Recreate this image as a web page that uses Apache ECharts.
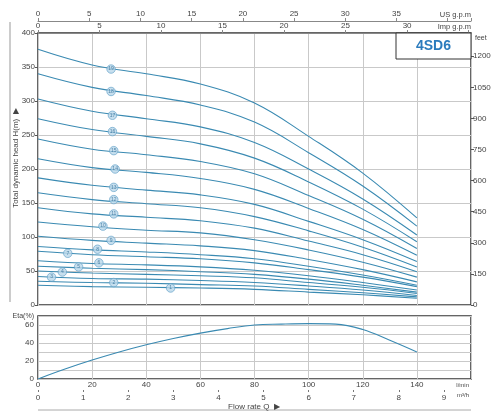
<!DOCTYPE html>
<html><head><meta charset="utf-8">
<script src="https://cdn.jsdelivr.net/npm/echarts@6/dist/echarts.min.js"></script>
<style>html,body{margin:0;padding:0;background:#fff}#c{width:495px;height:415px}</style>
</head><body><div id="c"></div>
<script>
// Flow points (l/min) for head curves
const flowQ = [0, 20, 40, 60, 80, 100, 120, 140];
// Head (m) for each stage curve
const h1  = [29, 27, 26, 25, 23, 19, 15, 10];
const h2  = [35, 33, 32, 30, 28, 23, 18, 12];
const h3  = [42, 39, 38, 36, 33, 28, 22, 14];
const h4  = [50, 47, 45, 43, 40, 33, 26, 17];
const h5  = [57, 54, 52, 49, 45, 38, 29, 19];
const h6  = [65, 61, 59, 56, 51, 43, 33, 22];
const h7  = [79, 74, 71, 68, 62, 52, 41, 27];
const h8  = [86, 81, 78, 74, 68, 57, 44, 29];
const h9  = [101, 95, 91, 87, 80, 67, 52, 34];
const h10 = [122, 115, 110, 106, 96, 81, 63, 41];
const h11 = [143, 134, 129, 124, 113, 94, 74, 49];
const h12 = [165, 155, 149, 143, 130, 109, 85, 56];
const h13 = [187, 176, 169, 162, 148, 123, 96, 64];
const h14 = [215, 202, 195, 186, 170, 142, 111, 73];
const h15 = [244, 229, 221, 211, 193, 161, 126, 83];
const h16 = [274, 258, 248, 237, 216, 181, 141, 93];
const h17 = [303, 285, 274, 262, 239, 200, 156, 103];
const h18 = [340, 320, 308, 294, 269, 224, 175, 116];
const h19 = [376, 353, 340, 325, 297, 248, 194, 128];
// Stage label markers (position along the curve)
const stageNames = ['1','2','3','4','5','6','7','8','9','10','11','12','13','14','15','16','17','18','19'];
const labelQ = [49, 28, 5, 9, 15, 22.5, 11, 22, 27, 24, 28, 28, 28, 28.5, 28, 27.5, 27.5, 27, 27];
const labelH = [25, 33, 41, 48.5, 56, 62, 76, 82, 95, 116, 134, 155, 173, 200, 227, 255, 279, 314, 347];
// Efficiency curve
const etaQ = [0, 10, 20, 30, 40, 50, 60, 70, 80, 90, 100, 110, 120, 130, 140];
const etaV = [0, 11, 21, 30, 38, 45, 51, 56, 60, 61, 61.5, 61, 55, 43, 30];
// Tick labels / units
const etaLabels = [0, 20, 40, 60];
const usGpmLabelMax = 35;
const impGpmLabelMax = 30;

const heads = [h1,h2,h3,h4,h5,h6,h7,h8,h9,h10,h11,h12,h13,h14,h15,h16,h17,h18,h19];
const LINE = '#3a8ab2';
const FONT = 'Liberation Sans';
const GRIDC = '#c9c9c9';
const TXT = '#444';

const series = heads.map((h, i) => ({
  type: 'line', xAxisIndex: 0, yAxisIndex: 0, smooth: 0.4, symbol: 'none',
  lineStyle: { color: LINE, width: 1.1 }, silent: true,
  data: flowQ.map((q, j) => [q, h[j]])
}));
series.push({
  type: 'scatter', xAxisIndex: 0, yAxisIndex: 0, symbol: 'circle', symbolSize: 8.5,
  itemStyle: { color: '#b9d7ea', borderColor: '#5d9ec6', borderWidth: 0.8 },
  label: { show: true, position: 'inside', formatter: p => p.data[2], fontSize: 5, color: '#2d6c96', fontFamily: FONT },
  data: labelQ.map((q, i) => [q, labelH[i], stageNames[i]]), z: 5
});
series.push({
  type: 'line', xAxisIndex: 3, yAxisIndex: 2, smooth: 0.4, symbol: 'none',
  lineStyle: { color: LINE, width: 1.1 },
  data: etaQ.map((q, i) => [q, etaV[i]])
});

const lbl = { fontSize: 8, color: TXT, fontFamily: FONT };
const option = {
  animation: false,
  grid: [
    { left: 38, top: 33, width: 433, height: 272, show: true, borderColor: '#333', borderWidth: 1.5, backgroundColor: '#fff', containLabel: false, outerBoundsMode: 'none' },
    { left: 38, top: 316, width: 433, height: 63, show: true, borderColor: '#333', borderWidth: 1.5, backgroundColor: '#fff', containLabel: false, outerBoundsMode: 'none' }
  ],
  xAxis: [
    { gridIndex: 0, type: 'value', position: 'bottom', min: 0, max: 160, interval: 20,
      axisLabel: { show: false }, axisTick: { show: false }, axisLine: { show: false, onZero: false },
      splitLine: { lineStyle: { color: GRIDC, width: 1 } } },
    { gridIndex: 0, type: 'value', position: 'top', min: 0, max: 160 / 4.546, interval: 5,
      axisLine: { show: true, onZero: false, lineStyle: { color: '#888' } },
      axisTick: { show: true, length: 3, lineStyle: { color: '#888' } },
      axisLabel: { ...lbl, margin: 3, showMaxLabel: false, formatter: v => v <= impGpmLabelMax ? String(v) : '' },
      splitLine: { show: false },
      name: 'Imp g.p.m', nameLocation: 'end', nameGap: 0, nameMoveOverlap: false,
      nameTextStyle: { fontSize: 7.5, color: TXT, fontFamily: FONT, align: 'right', verticalAlign: 'bottom', padding: [0, 0, 2, 0] } },
    { gridIndex: 0, type: 'value', position: 'top', offset: 12, min: 0, max: 160 / 3.785, interval: 5,
      axisLine: { show: true, onZero: false, lineStyle: { color: '#888' } },
      axisTick: { show: true, length: 3, lineStyle: { color: '#888' } },
      axisLabel: { ...lbl, margin: 3, formatter: v => v <= usGpmLabelMax ? String(v) : '' },
      splitLine: { show: false },
      name: 'US g.p.m', nameLocation: 'end', nameGap: 0, nameMoveOverlap: false,
      nameTextStyle: { fontSize: 7.5, color: TXT, fontFamily: FONT, align: 'right', verticalAlign: 'bottom', padding: [0, 0, 2, 0] } },
    { gridIndex: 1, type: 'value', position: 'bottom', min: 0, max: 160, interval: 20,
      axisLine: { show: false, onZero: false }, axisTick: { show: false },
      axisLabel: { ...lbl, margin: 2, showMaxLabel: false },
      splitLine: { lineStyle: { color: GRIDC, width: 1 } },
      name: 'l/min', nameLocation: 'end', nameGap: 0, nameMoveOverlap: false,
      nameTextStyle: { fontSize: 6, color: TXT, fontFamily: FONT, align: 'right', verticalAlign: 'top', padding: [3, 2, 0, 0] } },
    { gridIndex: 1, type: 'value', position: 'bottom', offset: 11, min: 0, max: 9.6, interval: 1,
      axisLine: { show: false, onZero: false },
      axisTick: { show: true, length: 2, inside: false, lineStyle: { color: '#777' } },
      axisLabel: { ...lbl, margin: 4, showMaxLabel: false },
      splitLine: { show: false },
      name: 'm³/h', nameLocation: 'end', nameGap: 0, nameMoveOverlap: false,
      nameTextStyle: { fontSize: 6, color: TXT, fontFamily: FONT, align: 'right', verticalAlign: 'top', padding: [2, 2, 0, 0] } }
  ],
  yAxis: [
    { gridIndex: 0, type: 'value', min: 0, max: 400, interval: 50, position: 'left',
      axisLine: { show: false, onZero: false }, axisTick: { show: true, length: 3, lineStyle: { color: '#555' } },
      axisLabel: { ...lbl, margin: 3 },
      splitLine: { lineStyle: { color: GRIDC, width: 1 } } },
    { gridIndex: 0, type: 'value', min: 0, max: 400 * 3.2808, interval: 150, position: 'right',
      axisLine: { show: false, onZero: false }, axisTick: { show: true, length: 3, lineStyle: { color: '#555' } },
      axisLabel: { ...lbl, margin: 2, showMaxLabel: false, formatter: v => String(v) },
      splitLine: { show: false },
      name: 'feet', nameLocation: 'end', nameGap: -2, nameMoveOverlap: false,
      nameTextStyle: { fontSize: 7, color: TXT, fontFamily: FONT, align: 'left', verticalAlign: 'top', padding: [0, 0, 0, 4] } },
    { gridIndex: 1, type: 'value', min: 0, max: 70, interval: 10, position: 'left',
      axisLine: { show: false, onZero: false }, axisTick: { show: false },
      axisLabel: { ...lbl, margin: 4, formatter: v => etaLabels.includes(v) ? String(v) : '' },
      splitLine: { lineStyle: { color: GRIDC, width: 1 } },
      name: 'Eta(%)', nameLocation: 'end', nameGap: 0, nameMoveOverlap: false,
      nameTextStyle: { fontSize: 7, color: TXT, fontFamily: FONT, align: 'right', verticalAlign: 'middle', padding: [0, 4, 0, 0] } }
  ],
  series: series,
  graphic: [
    { type: 'line', shape: { x1: 10, y1: 22, x2: 10, y2: 302 }, style: { stroke: '#999', lineWidth: 1 } },
    { type: 'line', shape: { x1: 38, y1: 410, x2: 471, y2: 410 }, style: { stroke: '#aaa', lineWidth: 1 } },
    { type: 'text', x: 16, y: 158, rotation: Math.PI / 2, style: { text: 'Total dynamic head H(m)  ▶', fontSize: 8, fill: TXT, fontFamily: FONT, align: 'center', verticalAlign: 'middle' } },
    { type: 'text', x: 254, y: 407, style: { text: 'Flow rate Q  ▶', fontSize: 8, fill: TXT, fontFamily: FONT, align: 'center', verticalAlign: 'middle' } },
    { type: 'rect', shape: { x: 396, y: 33, width: 75, height: 26 }, style: { fill: '#fff', stroke: '#333', lineWidth: 1 }, z: 10 },
    { type: 'text', x: 433.5, y: 46.5, z: 11, style: { text: '4SD6', fontSize: 14, fontWeight: 'bold', fill: '#2b7bbd', fontFamily: FONT, align: 'center', verticalAlign: 'middle' } }
  ]
};
echarts.init(document.getElementById('c'), null, { renderer: 'canvas' }).setOption(option);
</script></body></html>
